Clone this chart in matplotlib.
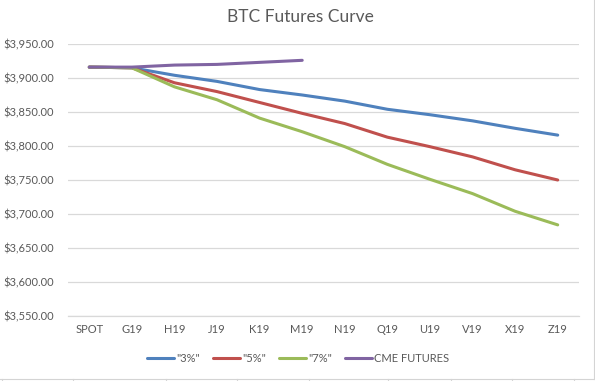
import matplotlib
matplotlib.use("Agg")
import matplotlib.pyplot as plt
from matplotlib.lines import Line2D
from matplotlib.ticker import FuncFormatter

plt.rcParams['font.family'] = ['Lato', 'DejaVu Sans']

months = ["SPOT", "G19", "H19", "J19", "K19", "M19", "N19", "Q19", "U19", "V19", "X19", "Z19"]
pct3 = [3916, 3915, 3904, 3895, 3883, 3875, 3866, 3854, 3846, 3837, 3826, 3816]
pct5 = [3916, 3915, 3893, 3880, 3864, 3848, 3833, 3813, 3799, 3784, 3765, 3750]
pct7 = [3916, 3915, 3887, 3868, 3841, 3821, 3799, 3773, 3751, 3730, 3704, 3684]
cme = [3916, 3916, 3919, 3920, 3923, 3926]

W, H = 595, 381
fig = plt.figure(figsize=(W / 100, H / 100), dpi=100)
ax = fig.add_axes([68 / W, (H - 316) / H, 511 / W, 272 / H])

x = list(range(len(months)))
ax.plot(x, pct3, color="#4F81BD", lw=2.2, label='"3%"', solid_capstyle="round")
ax.plot(x, pct5, color="#C0504D", lw=2.2, label='"5%"', solid_capstyle="round")
ax.plot(x, pct7, color="#9BBB59", lw=2.2, label='"7%"', solid_capstyle="round")
ax.plot(x[:len(cme)], cme, color="#8064A2", lw=2.2, label="CME FUTURES", solid_capstyle="round")

ax.set_xlim(-0.5, len(months) - 0.5)
ax.set_ylim(3550, 3950)
ax.set_yticks(range(3550, 3951, 50))
ax.yaxis.set_major_formatter(FuncFormatter(lambda v, p: "${:,.2f}".format(v)))
ax.set_xticks(x)
ax.set_xticklabels(months)
ax.grid(axis="y", color="#D9D9D9", lw=0.9)
ax.set_axisbelow(True)
for s in ["top", "right", "left"]:
    ax.spines[s].set_visible(False)
ax.spines["bottom"].set_color("#D9D9D9")
ax.spines["bottom"].set_linewidth(0.9)
ax.tick_params(length=0, labelsize=8, colors="#595959", pad=6)
ax.tick_params(axis="y", pad=10)

fig.text(300 / W, 1 - 17 / H, "BTC Futures Curve", ha="center", va="center",
         fontsize=12.5, color="#595959")

leg = fig.legend(loc="center", bbox_to_anchor=(298 / W, 1 - 358 / H), ncol=4,
                 frameon=False, fontsize=8, handlelength=2.4, handletextpad=0.2,
                 columnspacing=1.2)
for t in leg.get_texts():
    t.set_color("#595959")

# spreadsheet cell borders around the chart box
fig.add_artist(Line2D([0, 594 / W], [1 - 378.5 / H] * 2, color="#D4D4D4", lw=0.8))
fig.add_artist(Line2D([594 / W] * 2, [1 - 378.5 / H, 1], color="#D4D4D4", lw=0.8))
for cx in [2, 73, 166, 237, 309, 388, 451, 512, 574]:
    fig.add_artist(Line2D([cx / W] * 2, [0, 1 - 378.5 / H], color="#D4D4D4", lw=0.8))

fig.savefig("out.png", dpi=100)
